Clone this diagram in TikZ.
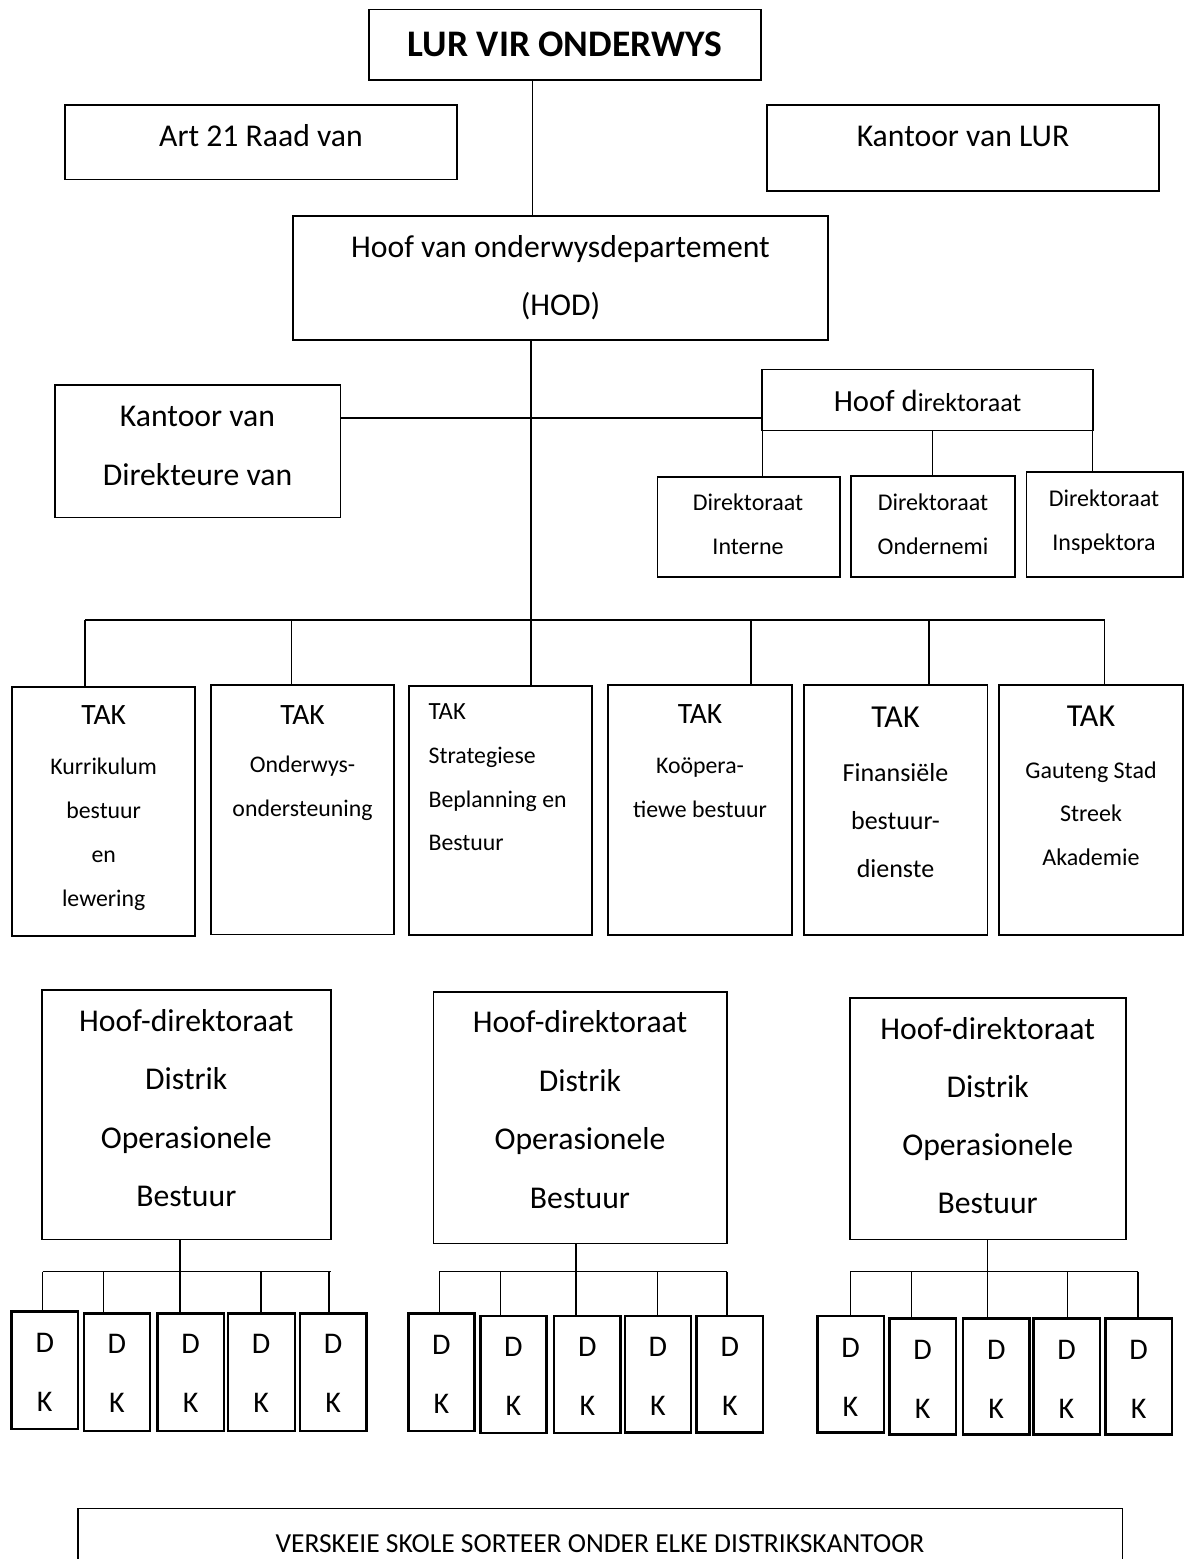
\documentclass[tikz,border=0pt]{standalone}
\usepackage{fontspec}
\setmainfont{Carlito}
% font size and line distance in one go
\newcommand\setfs[2]{\fontsize{#1}{#2}\selectfont}
% \orgbox[style]{name}{x1}{y1}{x2}{y2}: an empty framed box between two corners
\newcommand\orgbox[6][box]{%
  \node[#1, minimum width={(#5-#3)*1pt}, minimum height={(#6-#4)*1pt}]
    (#2) at ({(#3+#5)/2},{(#4+#6)/2}) {};}
\tikzset{
  box/.style={draw, line width=1.6pt, inner sep=0pt, outer sep=0pt, rectangle},
  dkbox/.style={draw, line width=2.4pt, inner sep=0pt, outer sep=0pt, rectangle},
  link/.style={line width=1.1pt},
  % multi-line labels are placed by the baseline of their last line
  lbl/.style={inner sep=0pt, outer sep=0pt, anchor=base, align=center},
  lblleft/.style={inner sep=0pt, outer sep=0pt, anchor=base west, align=left},
}
\begin{document}
\begin{tikzpicture}[x=1pt, y=-1pt]
\useasboundingbox (0,0) rectangle (1185,1559);
\fill[white] (0,0) rectangle (1185,1559);
\clip (0,0) rectangle (1185,1559);

% ---- top level ----
\orgbox{lur}{369}{9.3}{761}{80}
\node[lbl, font={\setfs{37.5}{45}\bfseries}] (lur-t) at (565,56) {LUR VIR ONDERWYS};

\orgbox{art}{65}{105}{457}{179.3}
\node[lbl, font={\setfs{31.7}{58.5}}] (art-t) at (261,146.7) {Art 21 Raad van};

\orgbox{klur}{767}{105}{1159}{190.7}
\node[lbl, font={\setfs{31.7}{58.5}}] (klur-t) at (963,146) {Kantoor van LUR};

\orgbox{hod}{292.8}{216}{828}{340}
\node[lbl, font={\setfs{31.7}{58.4}}] (hod-t) at (560.5,315.7)
  {Hoof van onderwysdepartement\\(HOD)};

\draw[link] (532.7,0 |- lur.south) -- (532.7,0 |- hod.north);

% ---- offices beside the head of department ----
\orgbox{kdir}{55}{384.7}{340.6}{517.3}
\node[lbl, font={\setfs{31.7}{59}}] (kdir-t) at (197.5,485) {Kantoor van\\Direkteure van};

\orgbox{hdir}{762}{369.3}{1093}{430.3}
\node[lbl] (hdir-t) at (927.5,411)
  {{\setfs{30.7}{36}Hoof d}{\setfs{26}{30}irektoraat}};

\draw[link] (kdir.east |- 0,418) -- (hdir.west |- 0,418);

\orgbox{dint}{657.5}{476.7}{839.7}{576.7}
\node[lbl, font={\setfs{24}{43.3}}] (dint-t) at (748,554) {Direktoraat\\Interne};
\orgbox{dond}{851}{476}{1015}{576.7}
\node[lbl, font={\setfs{24}{43.3}}] (dond-t) at (933,554) {Direktoraat\\Ondernemi};
\orgbox{dins}{1026.4}{472}{1182.8}{577}
\node[lbl, font={\setfs{24}{43.3}}] (dins-t) at (1104,550) {Direktoraat\\Inspektora};

\draw[link] (762.7,0 |- hdir.south) -- (762.7,0 |- dint.north);
\draw[link] (932.7,0 |- hdir.south) -- (932.7,0 |- dond.north);
\draw[link] (1092.5,0 |- hdir.south) -- (1092.5,0 |- dins.north);

% ---- branches ----
\orgbox{tak1}{12.2}{686.7}{195.2}{935.7}
\orgbox{tak2}{210.9}{685}{394.2}{934.3}
\orgbox{tak3}{408.7}{686}{591.7}{935}
\orgbox{tak4}{608.2}{685}{791.9}{934.7}
\orgbox{tak5}{803.7}{685}{987.3}{935}
\orgbox{tak6}{999.1}{685}{1182.8}{935}

\node[lbl, font={\setfs{29.5}{44}}] (tak1-h) at (103.7,724.3) {TAK};
\node[lbl, font={\setfs{23.8}{44}}] (tak1-b) at (103.7,906)
  {Kurrikulum\\bestuur\\en\\lewering};
\node[lbl, font={\setfs{29.5}{44}}] (tak2-h) at (302.5,724.3) {TAK};
\node[lbl, font={\setfs{23.8}{44}}] (tak2-b) at (302.5,816.7)
  {Onderwys-\\ondersteuning};
\node[lblleft, font={\setfs{24.7}{44}}] (tak3-h) at (428.6,719) {TAK};
\node[lblleft, font={\setfs{23.8}{43.7}}] (tak3-b) at (428.6,850.7)
  {Strategiese\\Beplanning en\\Bestuur};
\node[lbl, font={\setfs{29.5}{44}}] (tak4-h) at (700,723.3) {TAK};
\node[lbl, font={\setfs{23.8}{44}}] (tak4-b) at (700,817.3)
  {Koöpera-\\tiewe bestuur};
\node[lbl, font={\setfs{32}{48}}] (tak5-h) at (895.5,727.7) {TAK};
\node[lbl, font={\setfs{26}{48}}] (tak5-b) at (895.5,877)
  {Finansiële\\bestuur-\\dienste};
\node[lbl, font={\setfs{32}{44}}] (tak6-h) at (1091,726.7) {TAK};
\node[lbl, font={\setfs{24}{43.5}}] (tak6-b) at (1091,865.3)
  {Gauteng Stad\\Streek\\Akademie};

\coordinate (takbus) at (0,620);
\draw[link] (85,0 |- takbus) -- (1104.6,0 |- takbus);
\draw[link] (531,0 |- hod.south) -- (531,0 |- tak3.north);
\foreach \x/\n in {85/tak1, 291.2/tak2, 751/tak4, 929/tak5, 1104.6/tak6}
  \draw[link] (\x,0 |- takbus) -- (\x,0 |- \n.north);

% ---- district chief directorates ----
\orgbox{dA}{41.7}{990}{331}{1239.3}
\node[lbl, font={\setfs{31.7}{58.5}}] (dA-t) at (186.3,1206.5)
  {Hoof-direktoraat\\Distrik\\Operasionele\\Bestuur};
\orgbox{dB}{433.3}{991.7}{726.7}{1243.3}
\node[lbl, font={\setfs{31.7}{58.5}}] (dB-t) at (580,1208.2)
  {Hoof-direktoraat\\Distrik\\Operasionele\\Bestuur};
\orgbox{dC}{850}{997.7}{1126}{1239.3}
\node[lbl, font={\setfs{31.7}{58.2}}] (dC-t) at (987.7,1213.6)
  {Hoof-direktoraat\\Distrik\\Operasionele\\Bestuur};

% ---- district offices (last field: baseline of the D) ----
\foreach \n/\xa/\ya/\xb/\yb/\yd in {
    a1/11.5/1311.3/78/1429/1352.7,
    a2/83.8/1313.3/150/1430.7/1353.3,
    a3/157.3/1313.3/223.9/1430.7/1353.3,
    a4/227.7/1313.3/294.7/1430.7/1353.3,
    a5/299.7/1313.3/366.6/1430.7/1353.3,
    b1/408.3/1313.3/474.6/1431/1354.3,
    b2/480.3/1316/546.5/1432.7/1356.7,
    b3/554.2/1316/620.4/1432.7/1356.7,
    b4/624.9/1316/691/1432.3/1356.7,
    b5/696.6/1316/763/1432.3/1356.7,
    c1/817.3/1315.7/883.7/1432.3/1357.7,
    c2/889.4/1318.3/955.8/1434.3/1359.3,
    c3/963/1318.3/1029.5/1434.3/1359.3,
    c4/1033.3/1318.3/1099.7/1434.3/1359.3,
    c5/1105.4/1318.3/1171.8/1434.3/1359.3} {
  \orgbox[dkbox]{\n}{\xa}{\ya}{\xb}{\yb}
  \node[lbl, font={\setfs{30}{59}}] (\n-t) at ({(\xa+\xb)/2},{\yd+59}) {D\\K};
}

\coordinate (dkbus) at (0,1271.7);
% group A
\draw[link] (180,0 |- dA.south) -- (180,0 |- a3.north);
\draw[link] (42.5,0 |- dkbus) -- (331,0 |- dkbus);
\foreach \x/\n in {42.5/a1, 103.7/a2, 261/a4, 329/a5}
  \draw[link] (\x,0 |- dkbus) -- (\x,0 |- \n.north);
% group B
\draw[link] (576,0 |- dB.south) -- (576,0 |- b3.north);
\draw[link] (439.3,0 |- dkbus) -- (726.6,0 |- dkbus);
\foreach \x/\n in {439.3/b1, 500.2/b2, 657.2/b4, 727/b5}
  \draw[link] (\x,0 |- dkbus) -- (\x,0 |- \n.north);
% group C
\draw[link] (987.3,0 |- dC.south) -- (987.3,0 |- c3.north);
\draw[link] (850.3,0 |- dkbus) -- (1137.6,0 |- dkbus);
\foreach \x/\n in {850.3/c1, 911.4/c2, 1067.8/c4, 1138/c5}
  \draw[link] (\x,0 |- dkbus) -- (\x,0 |- \n.north);

% ---- schools ----
\orgbox{skole}{77.9}{1508.3}{1122.4}{1590}
\node[lbl, font={\setfs{27.5}{30}}] (skole-t) at (600,1552.7)
  {VERSKEIE SKOLE SORTEER ONDER ELKE DISTRIKSKANTOOR};
\end{tikzpicture}
\end{document}
